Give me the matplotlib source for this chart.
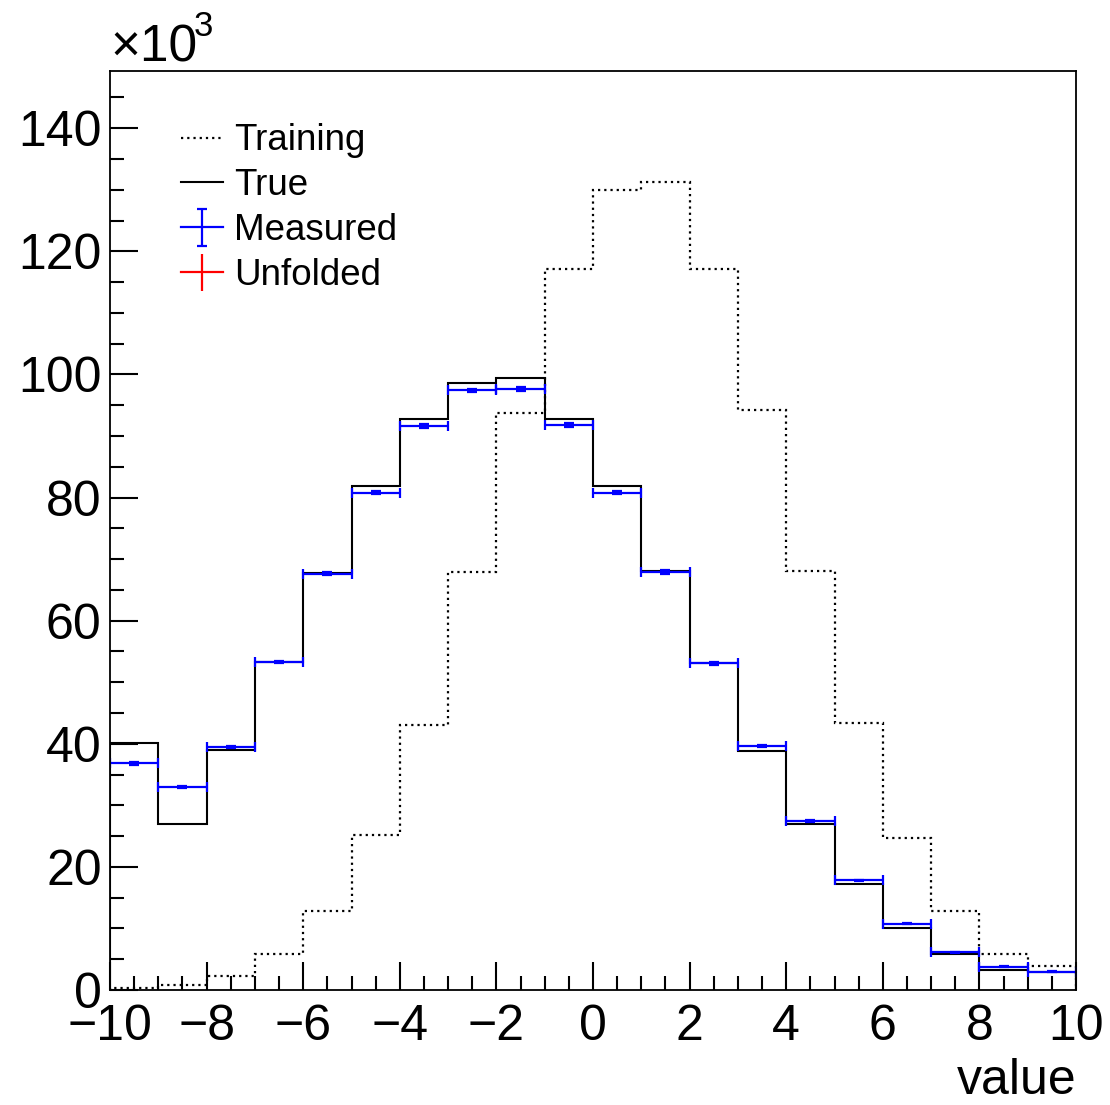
import numpy as np
import matplotlib
matplotlib.use("Agg")
import matplotlib.pyplot as plt
from matplotlib.lines import Line2D
from matplotlib.ticker import MultipleLocator
from matplotlib.legend_handler import HandlerTuple

matplotlib.rcParams["font.family"] = ["Liberation Sans", "DejaVu Sans"]
matplotlib.rcParams["axes.unicode_minus"] = True

# bin edges: 20 bins of width 1 from -10 to 10
bin_edges = np.arange(-10, 11, 1)

# values in units of 10^3
training = [0.4, 0.8, 2.3, 5.9, 12.9, 25.2, 43.1, 67.9, 93.7, 117.1,
            130.0, 131.2, 117.2, 94.2, 68.0, 43.4, 24.7, 12.9, 5.9, 3.9]
true_vals = [40.1, 26.9, 39.0, 53.3, 67.7, 81.9, 92.8, 98.6, 99.5, 92.8,
             81.8, 68.1, 53.2, 38.9, 26.9, 17.3, 10.1, 5.9, 3.2, 3.0]
measured = [36.8, 33.0, 39.5, 53.3, 67.6, 80.8, 91.6, 97.4, 97.7, 91.8,
            80.8, 67.9, 53.1, 39.6, 27.5, 17.8, 10.8, 6.1, 3.8, 3.0]
measured_err = [0.19, 0.18, 0.20, 0.23, 0.26, 0.28, 0.30, 0.31, 0.31, 0.30,
                0.28, 0.26, 0.23, 0.20, 0.17, 0.13, 0.10, 0.08, 0.06, 0.05]

fig = plt.figure(figsize=(11.1, 11.05), dpi=100)
ax = fig.add_axes([110 / 1110, 115 / 1105, 966 / 1110, 919 / 1105])

centers = (bin_edges[:-1] + bin_edges[1:]) / 2
dotted = (0, (1, 1.8))

ax.stairs(training, bin_edges, color="black", lw=1.6, linestyle=dotted)
ax.stairs(true_vals, bin_edges, color="black", lw=1.5)
ax.errorbar(centers, measured, xerr=0.5, yerr=measured_err, fmt="none",
            ecolor="blue", elinewidth=1.6, capsize=3.6, capthick=1.6)

ax.set_xlim(-10, 10)
ax.set_ylim(0, 149.3)
ax.xaxis.set_major_locator(MultipleLocator(2))
ax.xaxis.set_minor_locator(MultipleLocator(0.5))
ax.yaxis.set_major_locator(MultipleLocator(20))
ax.yaxis.set_minor_locator(MultipleLocator(5))
ax.tick_params(which="both", direction="in", top=False, right=False,
               width=1.5, labelsize=36)
ax.tick_params(which="major", length=20)
ax.tick_params(which="minor", length=10)
ax.tick_params(axis="x", pad=10)
ax.tick_params(axis="y", pad=6)
for s in ax.spines.values():
    s.set_linewidth(1.3)

ax.set_xlabel("value", fontsize=36, loc="right", labelpad=6)

# x10^3 multiplier
fig.text(110 / 1110, 1 - 62 / 1105, "\u00d710", fontsize=37, ha="left", va="baseline")
fig.text(194 / 1110, 1 - 36 / 1105, "3", fontsize=25, ha="left", va="baseline")

# legend
h_train = Line2D([], [], color="black", lw=1.6, linestyle=dotted)
h_true = Line2D([], [], color="black", lw=1.5)
meas_dummy = ax.errorbar([np.nan], [np.nan], yerr=[1], fmt="none", ecolor="blue",
                         elinewidth=1.6, capsize=3.6, capthick=1.6)
h_meas = (Line2D([], [], color="blue", lw=1.6), meas_dummy)
unf_dummy = ax.errorbar([np.nan], [np.nan], yerr=[1], fmt="none", ecolor="red",
                        elinewidth=1.6, capsize=0)
h_unf = (Line2D([], [], color="red", lw=1.6), unf_dummy)

leg = ax.legend([h_train, h_true, h_meas, h_unf],
                ["Training", "True", "Measured", "Unfolded"],
                handler_map={tuple: HandlerTuple(ndivide=1, pad=0)},
                loc="upper left", bbox_to_anchor=(0.058, 0.959), frameon=False,
                fontsize=26.5, handlelength=1.15, handletextpad=0.3,
                labelspacing=0.27, borderaxespad=0)

fig.savefig("out.png", dpi=100)
